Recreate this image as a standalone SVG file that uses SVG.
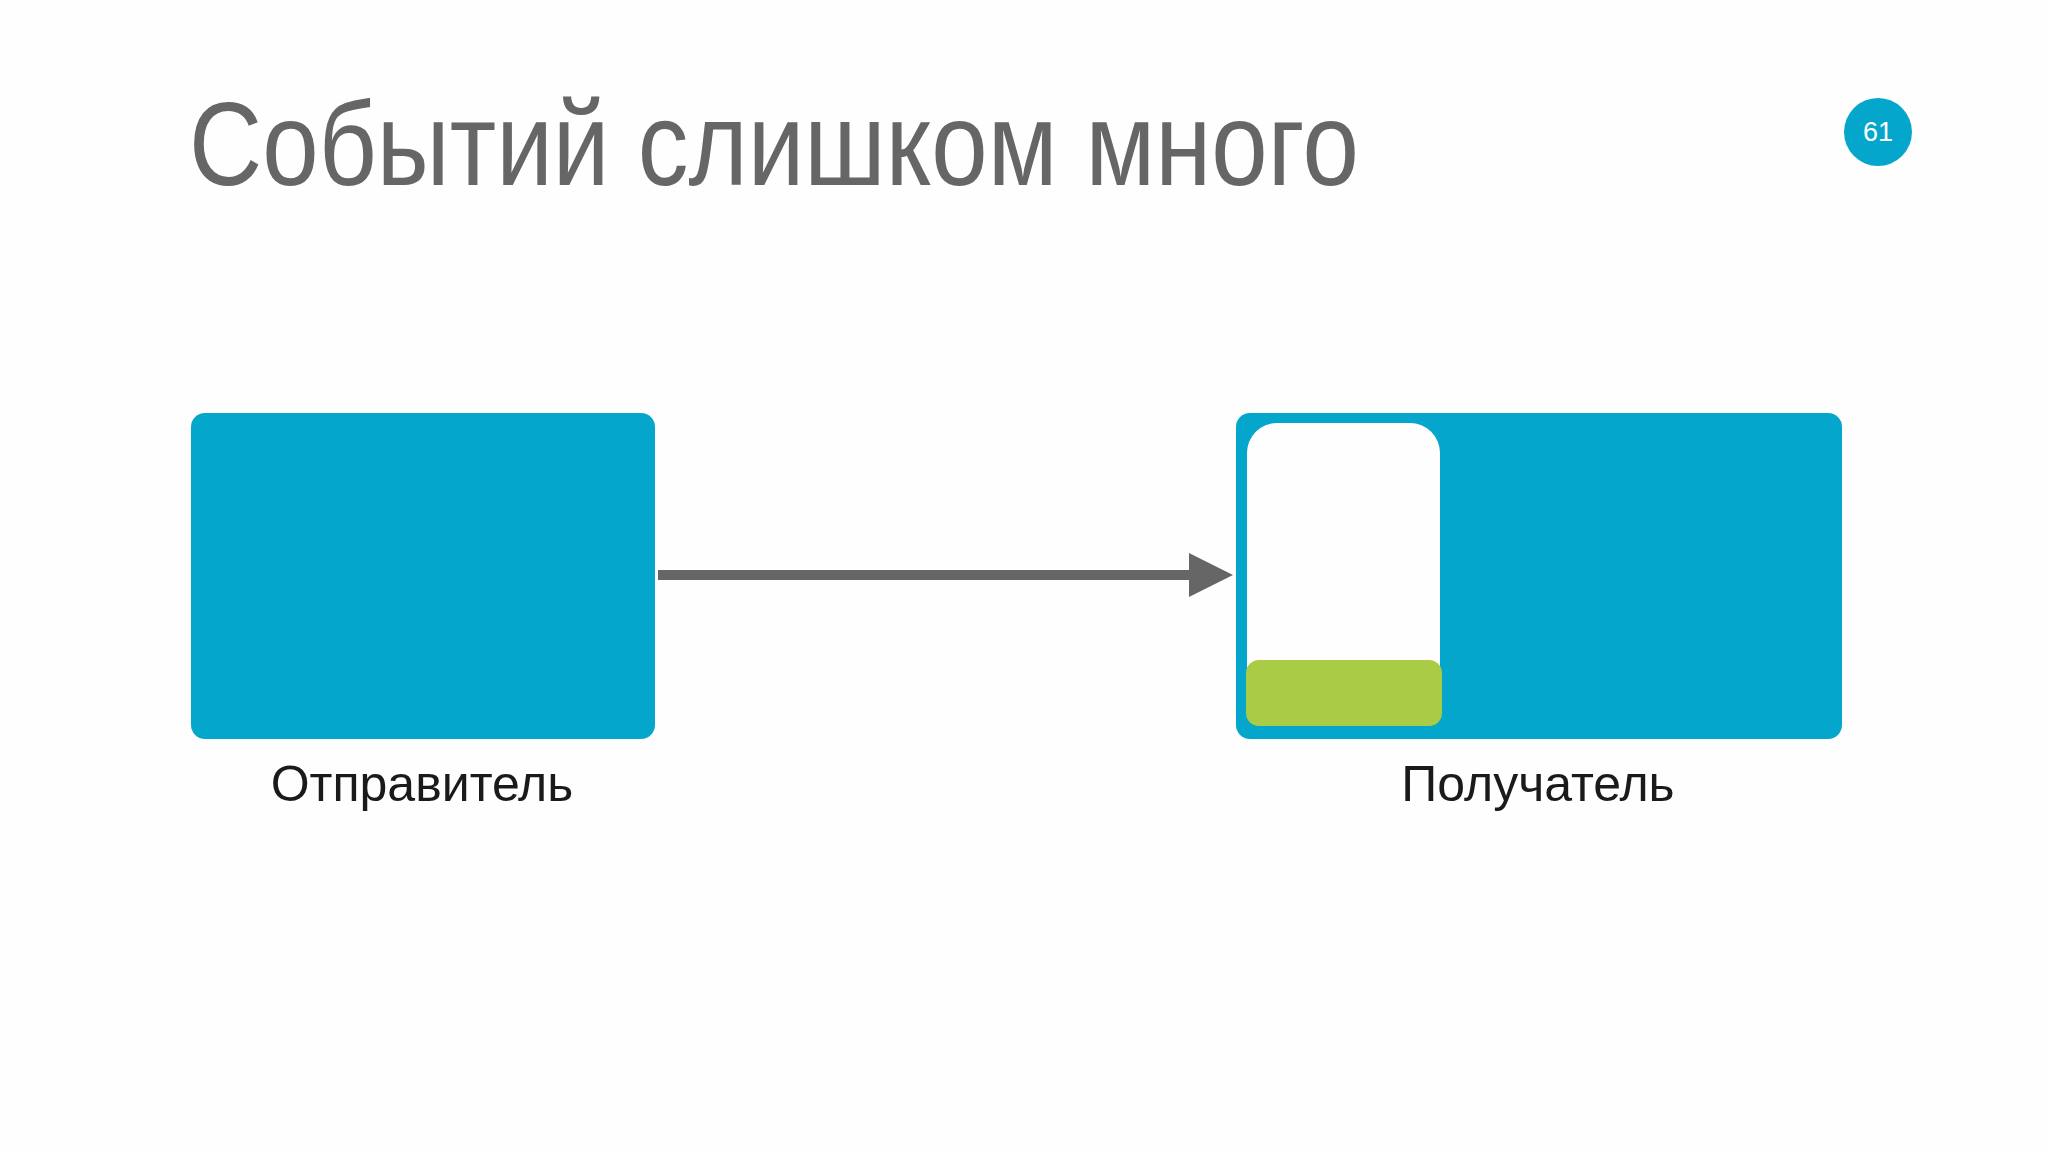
<svg xmlns="http://www.w3.org/2000/svg" width="2048" height="1152" viewBox="0 0 2048 1152">
<style>
.box{fill:#04a7cb}
.lbl{font-family:"Liberation Sans",Arial,sans-serif;font-size:50px;fill:#1a1a1a;text-anchor:middle}
</style>
<rect width="2048" height="1152" fill="#fefefe"/>
<text x="189" y="185" font-family="Liberation Sans, Arial, sans-serif" font-size="118" fill="#666" textLength="1170" lengthAdjust="spacingAndGlyphs">Событий слишком много</text>
<g id="badge"><circle cx="1878" cy="132" r="34" fill="#04a7cb"/><text x="1878" y="141" font-family="Liberation Sans, Arial, sans-serif" font-size="27" fill="#fff" text-anchor="middle">61</text></g>
<g id="sender"><rect class="box" x="191" y="413" width="464" height="326" rx="14"/><text class="lbl" x="422" y="801">Отправитель</text></g>
<g id="receiver"><rect class="box" x="1236" y="413" width="606" height="326" rx="14"/>
<rect x="1247" y="423" width="193" height="303" rx="30" fill="#fefefe"/>
<rect x="1246" y="660" width="196" height="66" rx="13" fill="#a9cb45"/>
<text class="lbl" x="1538" y="801">Получатель</text></g>
<g id="connectors"><line x1="658" y1="575" x2="1192" y2="575" stroke="#666" stroke-width="10"/><polygon points="1189,553 1233,575 1189,597" fill="#666"/></g>
</svg>
